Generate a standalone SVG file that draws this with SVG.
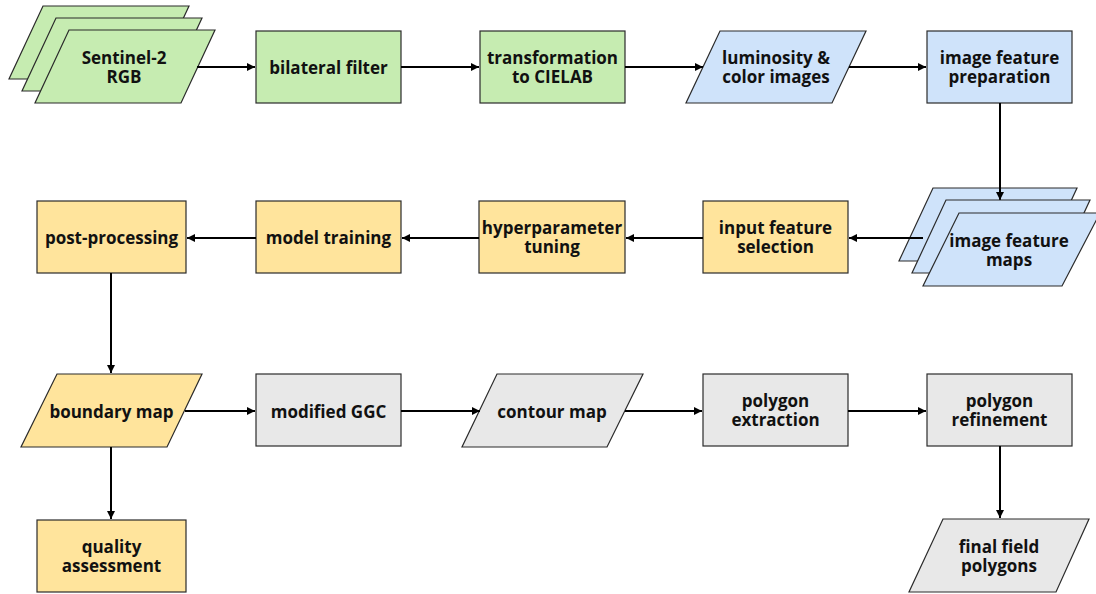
<svg xmlns="http://www.w3.org/2000/svg" width="1096" height="594" viewBox="0 0 1096 594">
  <style>
    .node { stroke: #2b2b2b; stroke-width: 1.2; }
    .green { fill: #c6ecb1; }
    .blue { fill: #cfe3fa; }
    .yellow { fill: #ffe49c; }
    .gray { fill: #e8e8e8; }
    text { font-family: "Open Sans", "Liberation Sans", sans-serif; font-weight: bold; font-size: 17px; fill: #111; text-anchor: middle; }
    .edge { stroke: #000; stroke-width: 2; fill: none; marker-end: url(#arrow); }
  </style>
  <defs>
    <marker id="arrow" viewBox="0 0 10 10" refX="10" refY="5" markerWidth="10" markerHeight="8" markerUnits="userSpaceOnUse" orient="auto">
      <path d="M0,0 L10,5 L0,10 z" fill="#000"/>
    </marker>
  </defs>
  <rect width="1096" height="594" fill="#fff"/>

  <!-- row 1 -->
  <g id="sentinel2">
    <polygon class="node green" points="43,6 189,6 155,79 9,79"/>
    <polygon class="node green" points="56,18 202,18 168,91 22,91"/>
    <polygon class="node green" points="69,30 215,30 181,103 35,103"/>
    <text x="124" y="64">Sentinel-2</text>
    <text x="124" y="83">RGB</text>
  </g>
  <g id="bilateral-filter">
    <rect class="node green" x="256" y="31" width="145" height="72"/>
    <text x="328.5" y="74">bilateral filter</text>
  </g>
  <g id="cielab">
    <rect class="node green" x="480" y="31" width="145" height="72"/>
    <text x="552.5" y="64">transformation</text>
    <text x="552.5" y="83">to CIELAB</text>
  </g>
  <g id="luminosity-color">
    <polygon class="node blue" points="720,31 866,31 832,103 686,103"/>
    <text x="776" y="64">luminosity &amp;</text>
    <text x="776" y="83">color images</text>
  </g>
  <g id="feature-preparation">
    <rect class="node blue" x="927" y="31" width="145" height="72"/>
    <text x="999.5" y="64">image feature</text>
    <text x="999.5" y="83">preparation</text>
  </g>

  <!-- row 2 -->
  <g id="feature-maps-back">
    <polygon class="node blue" points="933,188 1077,188 1043,261 899,261"/>
  </g>
  <g id="post-processing">
    <rect class="node yellow" x="37" y="201" width="149" height="72"/>
    <text x="111.5" y="244">post-processing</text>
  </g>
  <g id="model-training">
    <rect class="node yellow" x="256" y="201" width="145" height="72"/>
    <text x="328.5" y="244">model training</text>
  </g>
  <g id="hyperparameter-tuning">
    <rect class="node yellow" x="479" y="201" width="146" height="72"/>
    <text x="552" y="234">hyperparameter</text>
    <text x="552" y="253">tuning</text>
  </g>
  <g id="input-feature-selection">
    <rect class="node yellow" x="703" y="201" width="145" height="72"/>
    <text x="775.5" y="234">input feature</text>
    <text x="775.5" y="253">selection</text>
  </g>

  <!-- row 3 -->
  <g id="boundary-map">
    <polygon class="node yellow" points="57,374 202,374 167,447 21,447"/>
    <text x="111.5" y="418">boundary map</text>
  </g>
  <g id="modified-ggc">
    <rect class="node gray" x="256" y="374" width="145" height="72"/>
    <text x="328.5" y="418">modified GGC</text>
  </g>
  <g id="contour-map">
    <polygon class="node gray" points="497,374 643,374 607,447 462,447"/>
    <text x="552" y="418">contour map</text>
  </g>
  <g id="polygon-extraction">
    <rect class="node gray" x="703" y="374" width="145" height="72"/>
    <text x="775.5" y="407">polygon</text>
    <text x="775.5" y="426">extraction</text>
  </g>
  <g id="polygon-refinement">
    <rect class="node gray" x="927" y="374" width="145" height="72"/>
    <text x="999.5" y="407">polygon</text>
    <text x="999.5" y="426">refinement</text>
  </g>

  <!-- row 4 -->
  <g id="quality-assessment">
    <rect class="node yellow" x="37" y="520" width="149" height="72"/>
    <text x="111.5" y="553">quality</text>
    <text x="111.5" y="572">assessment</text>
  </g>
  <g id="final-field-polygons">
    <polygon class="node gray" points="943,519 1089,519 1056,592 909,592"/>
    <text x="999" y="553">final field</text>
    <text x="999" y="572">polygons</text>
  </g>

  <!-- connectors -->
  <g id="connectors">
    <line class="edge" x1="197" y1="67" x2="255" y2="67"/>
    <line class="edge" x1="401" y1="67" x2="479" y2="67"/>
    <line class="edge" x1="625" y1="67" x2="703" y2="67"/>
    <line class="edge" x1="849" y1="67" x2="926" y2="67"/>
    <line class="edge" x1="1000" y1="103" x2="1000" y2="200"/>
    <line class="edge" x1="923" y1="238" x2="849" y2="238"/>
    <line class="edge" x1="703" y1="238" x2="626" y2="238"/>
    <line class="edge" x1="479" y1="238" x2="402" y2="238"/>
    <line class="edge" x1="256" y1="238" x2="187" y2="238"/>
    <line class="edge" x1="111" y1="273" x2="111" y2="373"/>
    <line class="edge" x1="185" y1="411" x2="255" y2="411"/>
    <line class="edge" x1="401" y1="411" x2="480" y2="411"/>
    <line class="edge" x1="625" y1="411" x2="702" y2="411"/>
    <line class="edge" x1="848" y1="411" x2="926" y2="411"/>
    <line class="edge" x1="111" y1="447" x2="111" y2="519"/>
    <line class="edge" x1="1000" y1="446" x2="1000" y2="518"/>
  </g>

  <!-- front layers of the feature-map stack sit above the incoming connectors -->
  <g id="image-feature-maps">
    <polygon class="node blue" points="946,200 1090,200 1056,273 912,273"/>
    <polygon class="node blue" points="959,213 1100,213 1062,286 923,286"/>
    <text x="1009" y="247">image feature</text>
    <text x="1009" y="266">maps</text>
  </g>
</svg>
